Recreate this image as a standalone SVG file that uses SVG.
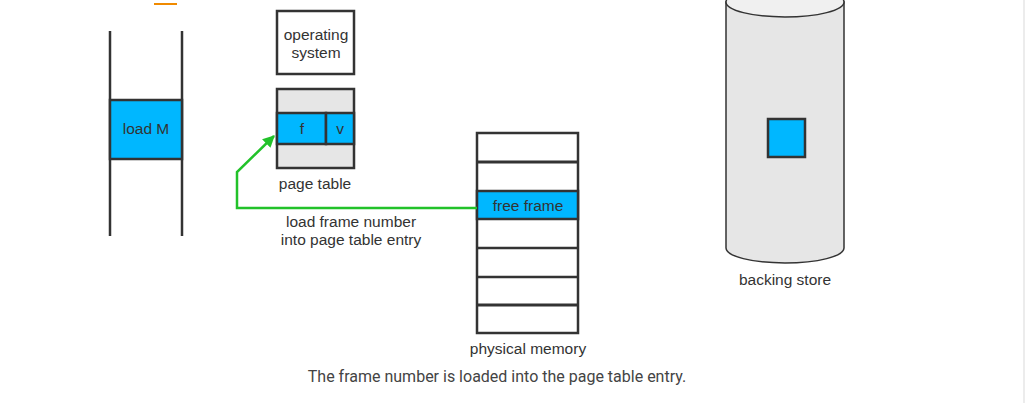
<svg xmlns="http://www.w3.org/2000/svg" width="1031" height="403" viewBox="0 0 1031 403">
<defs>
<style>
.box{stroke:#333;stroke-width:2.5}
.blue{fill:#00b7ff}
.gray{fill:#e6e6e6}
.t{font-family:"Liberation Sans",Arial,sans-serif;font-size:15.5px;fill:#333;text-anchor:middle}
.cap{font-family:Roboto,"Liberation Sans",sans-serif;font-size:16px;fill:#444;text-anchor:middle}
</style>
<marker id="ah" viewBox="0 0 10 10" refX="9" refY="5" markerWidth="12" markerHeight="12" markerUnits="userSpaceOnUse" orient="auto">
<path d="M0,0 L10,5 L0,10 z" fill="#22c22a"/>
</marker>
</defs>
<rect width="1031" height="403" fill="#fff"/>
<line x1="1024" y1="0" x2="1024" y2="403" stroke="#ececec" stroke-width="2"/>
<line x1="154" y1="4" x2="177" y2="4" stroke="#f08a00" stroke-width="2"/>

<g id="process">
<line x1="110" y1="31" x2="110" y2="236" stroke="#333" stroke-width="2.5"/>
<line x1="182" y1="31" x2="182" y2="236" stroke="#333" stroke-width="2.5"/>
<rect class="box blue" x="110" y="100" width="72" height="59"/>
<text class="t" x="146" y="134">load M</text>
</g>

<g id="os">
<rect class="box" x="277" y="11" width="77" height="63" fill="#fff"/>
<text class="t" x="316" y="40">operating</text>
<text class="t" x="316" y="58">system</text>
</g>

<g id="pagetable">
<rect class="box gray" x="277" y="89" width="77" height="79"/>
<rect class="box blue" x="277" y="113" width="49" height="31"/>
<rect class="box blue" x="326" y="113" width="28" height="31"/>
<text class="t" x="302" y="134">f</text>
<text class="t" x="340" y="134">v</text>
<text class="t" x="315" y="189">page table</text>
</g>

<g id="memory">
<rect class="box" x="477" y="133" width="101" height="200" fill="#fff"/>
<rect class="box blue" x="477" y="191" width="101" height="28"/>
<line x1="477" y1="162" x2="578" y2="162" stroke="#333" stroke-width="3"/>
<line x1="477" y1="248" x2="578" y2="248" stroke="#333" stroke-width="2.5"/>
<line x1="477" y1="277" x2="578" y2="277" stroke="#333" stroke-width="2.5"/>
<line x1="477" y1="305" x2="578" y2="305" stroke="#333" stroke-width="3"/>
<text class="t" x="528" y="211">free frame</text>
<text class="t" x="528" y="354">physical memory</text>
</g>

<g id="backingstore">
<path d="M726,2 L726,248 A59,15 0 0 0 844,248 L844,2 Z" fill="#e6e6e6" stroke="#333" stroke-width="1.5"/>
<ellipse cx="785" cy="2" rx="59" ry="15" fill="#f0f0f0" stroke="#333" stroke-width="1.5"/>
<rect class="box blue" x="768" y="119" width="37" height="38"/>
<text class="t" x="785" y="285">backing store</text>
</g>

<g id="connectors">
<polyline points="477,208 237,208 237,172 274,136" fill="none" stroke="#22c22a" stroke-width="2.5" marker-end="url(#ah)"/>
<text class="t" x="351" y="227">load frame number</text>
<text class="t" x="351" y="245">into page table entry</text>
</g>

<text class="cap" x="497" y="382">The frame number is loaded into the page table entry.</text>
</svg>
